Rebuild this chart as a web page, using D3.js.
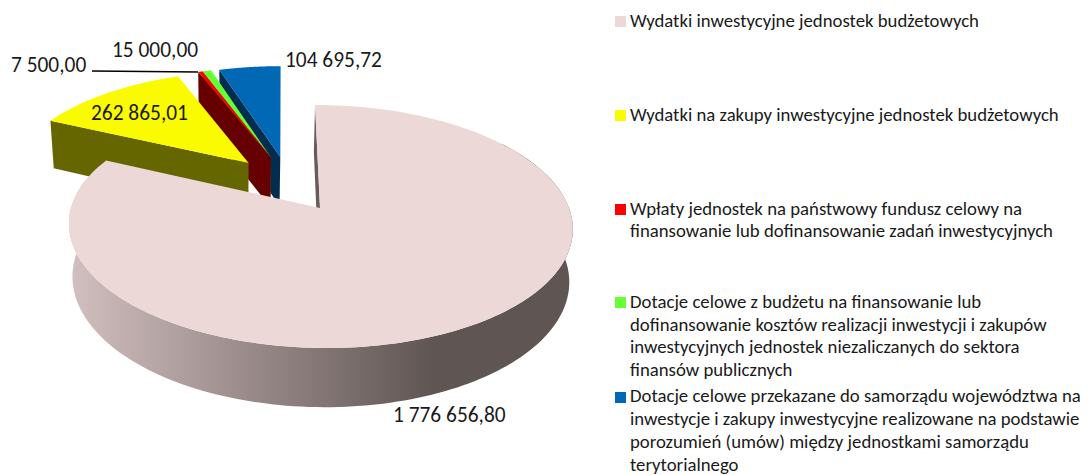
<!DOCTYPE html>
<html><head><meta charset="utf-8">
<script src="https://cdn.jsdelivr.net/npm/d3@7"></script>
<style>html,body{margin:0;background:#fff}svg{display:block}text{font-family:Carlito,Lato,sans-serif;fill:#1a1a1a}</style>
</head><body><div id="c"></div>
<script>
const categories = [
  ["Wydatki inwestycyjne jednostek budżetowych"],
  ["Wydatki na zakupy inwestycyjne jednostek budżetowych"],
  ["Wpłaty jednostek na państwowy fundusz celowy na","finansowanie lub dofinansowanie zadań inwestycyjnych"],
  ["Dotacje celowe z budżetu na finansowanie lub","dofinansowanie kosztów realizacji inwestycji i zakupów","inwestycyjnych jednostek niezaliczanych do sektora","finansów publicznych"],
  ["Dotacje celowe przekazane do samorządu województwa na","inwestycje i zakupy inwestycyjne realizowane na podstawie","porozumień (umów) między jednostkami samorządu","terytorialnego"]
];
const values = [1776656.80, 262865.01, 7500.00, 15000.00, 104695.72];
const valueLabels = ["1 776 656,80","262 865,01","7 500,00","15 000,00","104 695,72"];
const topColors = ["#ecd8d7","#fbfb00","#ff0000","#66ff33","#0068b5"];
const sideColors = ["#665c5a","#666600","#660000","#2e7d1e","#002d50"];
const explode = [[0,0],[-0.295,0.402],[-0.2,0.455],[-0.2,0.455],[-0.16,0.46]];
const labelPos = [[393,422],[91,120],[11,72],[112,57],[285,67]];
const legendSwatchY = [16,110,204,297,392];
const legendBaselineY = [[27],[121],[215,237],[308,331,353,376],[402,425,448,471]];

const svg = d3.select("#c").append("svg").attr("width",1089).attr("height",475);
const k=0.152,m=0.014,Rx=249,Ry=118.7,D=53,cx=322,cy=208;
const proj=(u,v,z)=>{const w=1+k*v+m*z;return [cx+(Rx*u-6*v-1.5*z*Math.max(0,1-u*u)-2)/w, cy+(-Ry*v+D*z)/w];};
const pie=d3.pie().sort(null).value(d=>d)(values);
const line=d3.line();
const rim=(i,a,z)=>proj(Math.sin(a)+explode[i][0],Math.cos(a)+explode[i][1],z);
const apex=(i,z)=>proj(explode[i][0],explode[i][1],z);
const grad=svg.append("defs").append("linearGradient").attr("id","wall").attr("gradientUnits","userSpaceOnUse")
  .attr("x1",70).attr("x2",434).attr("y1",0).attr("y2",0);
grad.append("stop").attr("offset",0).attr("stop-color","#d2bfbf");
grad.append("stop").attr("offset",1).attr("stop-color","#5f5553");

const arcPts=(i,a0,a1,z)=>d3.range(0,161).map(t=>rim(i,a0+(a1-a0)*t/160,z));
const order=[4,3,2,1,0];
order.forEach(i=>{
  const p=pie[i],g=svg.append("g");
  if(i===0){
    const a0=Math.PI*0.3,a1=Math.PI*1.62;
    g.append("path").attr("d",line(arcPts(0,a0,a1,0).concat(arcPts(0,a0,a1,1).reverse()))+"Z").attr("fill","url(#wall)");
  }
  g.append("path").attr("d",line([rim(i,p.startAngle,0),apex(i,0),apex(i,1),rim(i,p.startAngle,1)])+"Z").attr("fill",sideColors[i]);
  g.append("path").attr("d",line([apex(i,0)].concat(arcPts(i,p.startAngle,p.endAngle,0)))+"Z").attr("fill",topColors[i]);
});

svg.append("path").attr("d",line([[92,71],[198,72]])).attr("stroke","#000").attr("stroke-width",1.5).attr("fill","none");
svg.selectAll("text.v").data(valueLabels).join("text").attr("class","v")
  .attr("x",(d,i)=>labelPos[i][0]).attr("y",(d,i)=>labelPos[i][1]).attr("font-size",21.4).text(d=>d);
categories.forEach((lines,i)=>{
  svg.append("rect").attr("x",615).attr("y",legendSwatchY[i]).attr("width",11).attr("height",11).attr("fill",topColors[i]);
  lines.forEach((t,j)=>svg.append("text").attr("x",630).attr("y",legendBaselineY[i][j]).attr("font-size",18.75).text(t));
});
</script></body></html>
